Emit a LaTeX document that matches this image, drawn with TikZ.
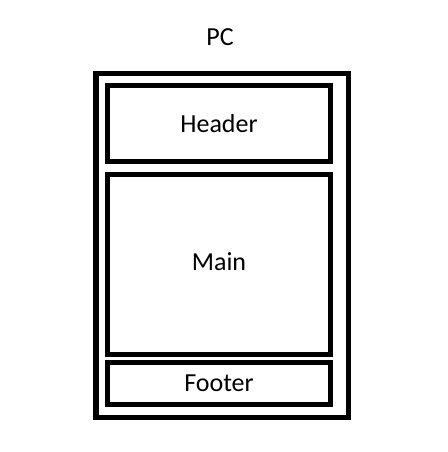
\documentclass[tikz,border=0pt]{standalone}
\usepackage{fontspec}
\setmainfont{Carlito}
\usetikzlibrary{positioning, calc}

\tikzset{
    frame/.style={draw, line width=4.1pt, inner sep=0pt},
    lbl/.style={font=\fontsize{19.5}{23}\selectfont}
}

\begin{document}
\begin{tikzpicture}[x=0.75pt, y=-0.75pt]
\useasboundingbox (0,0) rectangle (448,452);

\node[lbl] (pc) at (220, 37) {PC};

\node[frame,
        minimum width=189.4pt,
        minimum height=258pt] (screen) at (222.25, 245.5) {};

\node[frame, lbl,
        minimum width=167.25pt,
        minimum height=57pt] (header) at (219, 123.5) {\raisebox{-1.4pt}{Header}};

\node[frame, lbl,
        minimum width=167.25pt,
        minimum height=135pt] (main) at ($(header) + (0, 141)$) {\raisebox{4pt}{Main}};

\node[frame, lbl,
        minimum width=167.25pt,
        minimum height=31.5pt] (footer) at ($(main) + (0, 119)$) {\raisebox{-1.1pt}{Footer}};

\end{tikzpicture}
\end{document}
